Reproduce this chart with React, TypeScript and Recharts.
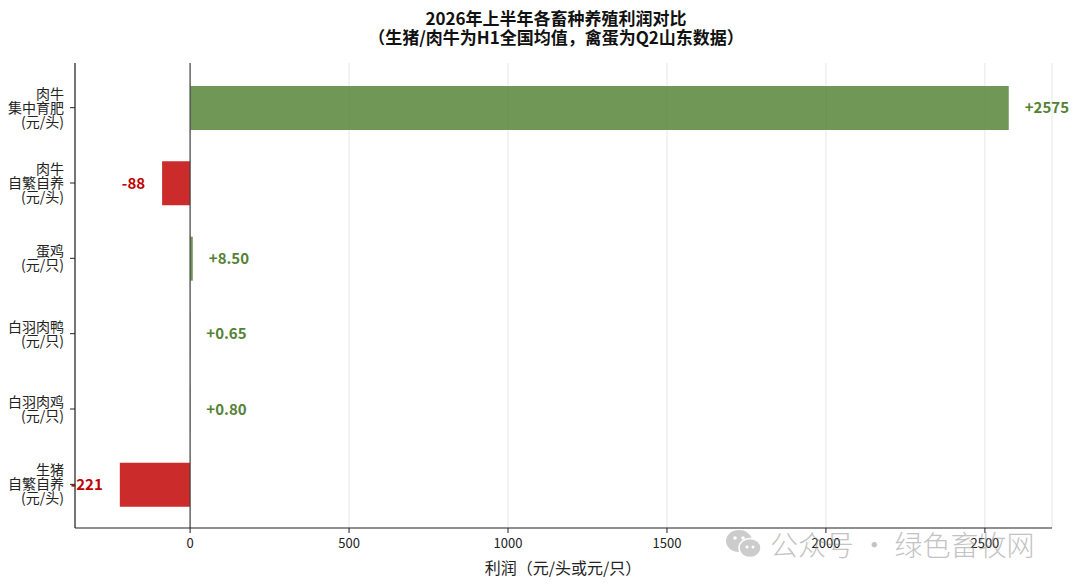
import React from 'react';
import { BarChart, Bar, XAxis, YAxis, CartesianGrid, ReferenceLine, Cell, LabelList } from 'recharts';

const categories = [
  '肉牛\n集中育肥\n(元/头)',
  '肉牛\n自繁自养\n(元/头)',
  '蛋鸡\n(元/只)',
  '白羽肉鸭\n(元/只)',
  '白羽肉鸡\n(元/只)',
  '生猪\n自繁自养\n(元/头)',
];
const profits = [2575, -88, 8.5, 0.65, 0.8, -221];
const valueLabels = ['+2575', '-88', '+8.50', '+0.65', '+0.80', '-221'];
const xTicks = [0, 500, 1000, 1500, 2000, 2500];

const data = categories.map((name, i) => ({ name, profit: profits[i], label: valueLabels[i] }));

const FONT = '"Noto Sans CJK SC", "Noto Sans", sans-serif';
const POS_FILL = '#548235';
const NEG_FILL = '#c00000';

const YTick = (props: any) => {
  const { x, y, payload } = props;
  const lines = String(payload.value).split('\n');
  const lh = 14;
  const start = -((lines.length - 1) * lh) / 2;
  return (
    <g>
      {lines.map((l, i) => (
        <text key={i} x={x - 1} y={y + start + i * lh} dy="0.35em" textAnchor="end" fontSize={14} fill="#222" fontFamily={FONT}>
          {l}
        </text>
      ))}
    </g>
  );
};

const ValueLabel = (props: any) => {
  const { x, y, width, height, index } = props;
  const v = profits[index];
  const left = Math.min(x, x + width);
  const right = Math.max(x, x + width);
  const cy = y + height / 2;
  const pos = v >= 0;
  return (
    <text
      x={pos ? right + 16 : left - 17}
      y={cy}
      dy="0.35em"
      textAnchor={pos ? 'start' : 'end'}
      fontSize={15}
      fontWeight="bold"
      fill={pos ? POS_FILL : NEG_FILL}
      fontFamily={FONT}
    >
      {valueLabels[index]}
    </text>
  );
};

export default function App() {
  return (
    <div style={{ position: 'absolute', left: 0, top: 0, width: 1080, height: 585, background: '#fff', fontFamily: FONT }}>
      <div style={{ position: 'absolute', left: 0, width: 1112, top: 8, textAlign: 'center', fontSize: 17, fontWeight: 'bold', lineHeight: '19px', color: '#111' }}>
        <div>2026年上半年各畜种养殖利润对比</div>
        <div>（生猪/肉牛为H1全国均值，禽蛋为Q2山东数据）</div>
      </div>
      <BarChart
        width={1080}
        height={585}
        data={data}
        layout="vertical"
        margin={{ top: 63, right: 28, bottom: 0, left: 0 }}
        barSize={44}
      >
        <CartesianGrid horizontal={false} vertical={true} stroke="#e6e6e6" strokeWidth={1} />
        <XAxis
          type="number"
          domain={[-362, 2711]}
          ticks={xTicks}
          allowDataOverflow
          height={57}
          tickSize={5}
          tickMargin={6}
          axisLine={{ stroke: '#222', strokeWidth: 1.2 }}
          tickLine={{ stroke: '#222' }}
          tick={{ fontSize: 13, fill: '#222', fontFamily: FONT }}
        />
        <YAxis
          type="category"
          dataKey="name"
          width={75}
          padding={{ top: 7, bottom: 6 }}
          tickSize={5}
          tickMargin={5}
          axisLine={{ stroke: '#222', strokeWidth: 1.2 }}
          tickLine={{ stroke: '#222' }}
          tick={<YTick />}
          interval={0}
        />
        <ReferenceLine x={0} stroke="#444" strokeWidth={1.2} />
        <Bar dataKey="profit" isAnimationActive={false} fillOpacity={0.83}>
          {data.map((d, i) => (
            <Cell key={i} fill={d.profit >= 0 ? POS_FILL : NEG_FILL} />
          ))}
          <LabelList dataKey="label" content={<ValueLabel />} />
        </Bar>
      </BarChart>
      <div style={{ position: 'absolute', left: 413, width: 300, top: 555, textAlign: 'center', fontSize: 16, color: '#222', whiteSpace: 'nowrap' }}>
        利润（元/头或元/只）
      </div>
      <div style={{ position: 'absolute', left: 722, top: 524, display: 'flex', alignItems: 'center', opacity: 0.5, whiteSpace: 'nowrap' }}>
        <svg width={44} height={36}>
          <ellipse cx={17} cy={15} rx={13} ry={11} fill="#9a9a9a" />
          <ellipse cx={28} cy={22} rx={11} ry={9.5} fill="#9a9a9a" stroke="#fff" strokeWidth={1.5} />
          <circle cx={13} cy={12} r={1.8} fill="#fff" />
          <circle cx={21} cy={12} r={1.8} fill="#fff" />
          <circle cx={25} cy={21} r={1.5} fill="#fff" />
          <circle cx={31} cy={21} r={1.5} fill="#fff" />
        </svg>
        <span style={{ fontSize: 28, color: '#888', marginLeft: 4, fontWeight: 300 }}>公众号 · 绿色畜牧网</span>
      </div>
    </div>
  );
}
